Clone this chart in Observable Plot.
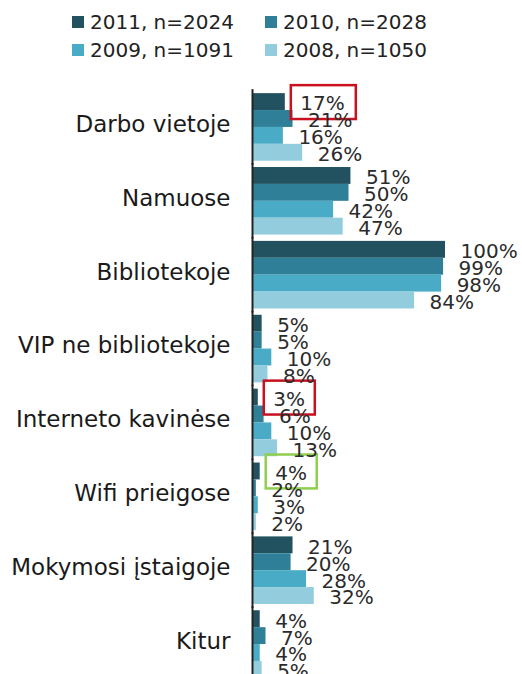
<!DOCTYPE html>
<html>
<head>
<meta charset="utf-8">
<script src="https://cdn.jsdelivr.net/npm/d3@7"></script>
<script src="https://cdn.jsdelivr.net/npm/@observablehq/plot@0.6"></script>
<style>
  html, body { margin: 0; padding: 0; background: #fff; width: 522px; height: 674px; overflow: hidden; }
  #legend { position: relative; width: 522px; height: 75px; font-family: "DejaVu Sans", Verdana, sans-serif; font-size: 20px; color: #222; }
  .item { position: absolute; display: flex; align-items: center; white-space: nowrap; }
  .sw { width: 12px; height: 12px; margin-right: 6px; }
  #chart svg { display: block; }
</style>
</head>
<body>
<div id="legend"></div>
<div id="chart"></div>
<script>
const categories = ["Darbo vietoje", "Namuose", "Bibliotekoje", "VIP ne bibliotekoje", "Interneto kavinėse", "Wifi prieigose", "Mokymosi įstaigoje", "Kitur"];
const series = ["2011", "2010", "2009", "2008"];
const legendLabels = ["2011, n=2024", "2010, n=2028", "2009, n=1091", "2008, n=1050"];
const colors = ["#22525f", "#2e7f97", "#4aabc6", "#93cddd"];
const v2011 = [17, 51, 100, 5, 3, 4, 21, 4];
const v2010 = [21, 50, 99, 5, 6, 2, 20, 7];
const v2009 = [16, 42, 98, 10, 10, 3, 28, 4];
const v2008 = [26, 47, 84, 8, 13, 2, 32, 5];
const highlights = [
  {category: "Darbo vietoje", series: "2011", color: "#c8101e"},
  {category: "Interneto kavinėse", series: "2011", color: "#c8101e"},
  {category: "Wifi prieigose", series: "2011", color: "#8fce4f"}
];

const valuesBySeries = [v2011, v2010, v2009, v2008];
const data = [];
categories.forEach((c, ci) => series.forEach((s, si) => data.push({category: c, series: s, value: valuesBySeries[si][ci]})));
const lookup = (c, s) => data.find(d => d.category === c && d.series === s);

// legend
const legend = document.getElementById("legend");
const pos = [[72, 10], [265, 10], [72, 38], [265, 38]];
legendLabels.forEach((l, i) => {
  const it = document.createElement("div");
  it.className = "item";
  it.style.left = pos[i][0] + "px";
  it.style.top = pos[i][1] + "px";
  it.innerHTML = `<span class="sw" style="background:${colors[i]}"></span><span>${l}</span>`;
  legend.appendChild(it);
});

const hlMarks = highlights.map(h => {
  const d = Object.assign({}, lookup(h.category, h.series), {color: h.color});
  const w = (d.value + "%").length >= 3 ? 65 : 51;
  return Plot.barX([d], {
    x1: "value", x2: "value", y: "series", fy: "category",
    fill: "none", stroke: h.color, strokeWidth: 2.5,
    insetLeft: 6, insetRight: -(6 + w), insetTop: -8, insetBottom: -9
  });
});

const chart = Plot.plot({
  width: 522,
  height: 606,
  marginTop: 15,
  marginBottom: 0,
  marginLeft: 252,
  marginRight: 77,
  style: {fontFamily: "DejaVu Sans, Verdana, sans-serif", fontSize: "20px", background: "#fff"},
  x: {domain: [0, 100], axis: null},
  y: {domain: series, padding: 0, round: false, axis: null},
  fy: {domain: categories, paddingInner: 0.085, paddingOuter: 0.0425, round: false, axis: null},
  color: {domain: series, range: colors},
  marks: [
    Plot.barX(data, {x: "value", y: "series", fy: "category", fill: "series"}),
    Plot.ruleX([0], {stroke: "#222", strokeWidth: 2, insetTop: -4, insetBottom: -4}),
    ...hlMarks,
    Plot.text(data, {x: "value", y: "series", fy: "category", text: d => d.value + "%",
      textAnchor: "start", dx: 15, dy: 2, fill: "#2b2b2b", fontSize: 20}),
    Plot.axisFy({anchor: "left", tickSize: 0, tickPadding: 22, fontSize: 23, label: null, fill: "#1a1a1a", dy: -3})
  ]
});
document.getElementById("chart").appendChild(chart);
</script>
</body>
</html>
